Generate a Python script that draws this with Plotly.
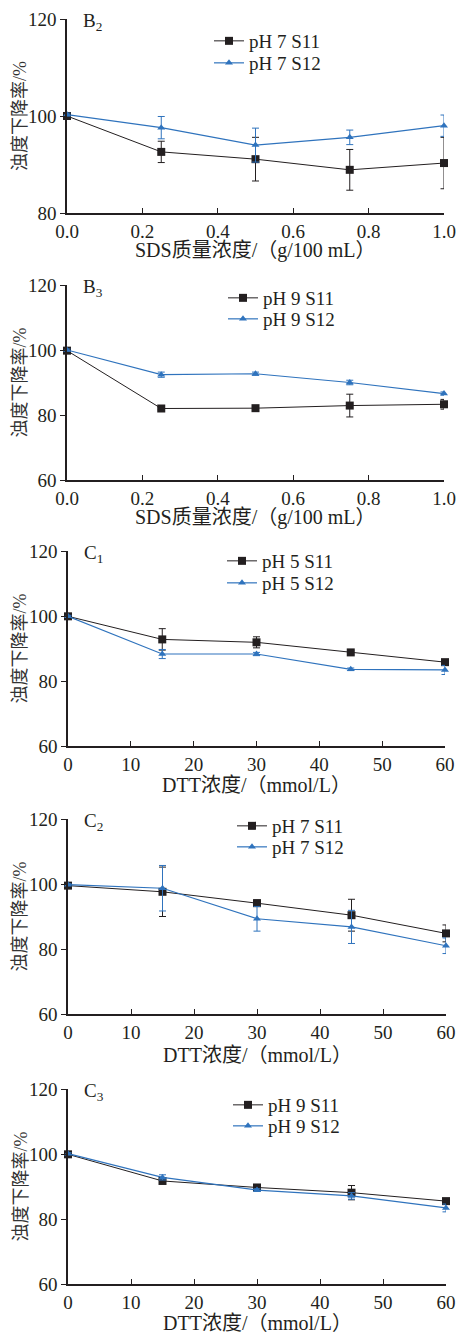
import plotly.graph_objects as go

W, H = 458, 1335
FONT = "Liberation Serif, Times New Roman, Noto Sans CJK SC, serif"
BLACK = "#231f20"
BLUE = "#2f73bd"

# ---------------- data ----------------
sds_x = [0.0, 0.25, 0.5, 0.75, 1.0]
dtt_x = [0, 15, 30, 45, 60]

b2_s11 = [100.0, 92.6, 91.1, 88.9, 90.3]
b2_s11_err = [0.3, 2.2, 4.5, 4.2, 5.3]
b2_s12 = [100.3, 97.6, 94.0, 95.6, 98.0]
b2_s12_err = [0.3, 2.3, 3.5, 1.5, 2.2]

b3_s11 = [99.8, 82.0, 82.1, 82.9, 83.3]
b3_s11_err = [0.3, 0.4, 0.4, 3.5, 1.5]
b3_s12 = [100.0, 92.4, 92.7, 90.0, 86.6]
b3_s12_err = [0.3, 0.8, 0.5, 0.7, 0.5]

c1_s11 = [99.9, 92.8, 91.9, 88.8, 85.8]
c1_s11_err = [0.3, 3.3, 1.7, 0.5, 0.7]
c1_s12 = [99.9, 88.3, 88.3, 83.6, 83.4]
c1_s12_err = [0.3, 1.4, 0.5, 0.4, 1.4]

c2_s11 = [99.5, 97.6, 94.1, 90.4, 84.8]
c2_s11_err = [0.3, 7.6, 1.0, 4.9, 2.6]
c2_s12 = [99.8, 98.7, 89.3, 86.8, 81.0]
c2_s12_err = [0.3, 7.0, 3.8, 5.1, 2.4]

c3_s11 = [99.9, 91.7, 89.7, 88.1, 85.5]
c3_s11_err = [0.3, 0.4, 0.5, 2.2, 0.5]
c3_s12 = [100.1, 92.8, 88.9, 87.1, 83.4]
c3_s12_err = [0.3, 0.8, 0.4, 1.0, 1.2]

panel_labels = ["B<sub>2</sub>", "B<sub>3</sub>", "C<sub>1</sub>", "C<sub>2</sub>", "C<sub>3</sub>"]
ph_labels = ["pH 7", "pH 9", "pH 5", "pH 7", "pH 9"]
series_names = ["S11", "S12"]
sds_title = "SDS质量浓度/（g/100 mL）"
dtt_title = "DTT浓度/（mmol/L）"
y_title = "浊度下降率/%"

sds_ticks = [0.0, 0.2, 0.4, 0.6, 0.8, 1.0]
sds_ticktext = ["0.0", "0.2", "0.4", "0.6", "0.8", "1.0"]
dtt_ticks = [0, 10, 20, 30, 40, 50, 60]

panels = [
    dict(x=sds_x, s11=b2_s11, e11=b2_s11_err, s12=b2_s12, e12=b2_s12_err,
         xr=[0, 1], yr=[80, 120], yt=[80, 100, 120], xt=sds_ticks, xtt=sds_ticktext, xtitle=sds_title),
    dict(x=sds_x, s11=b3_s11, e11=b3_s11_err, s12=b3_s12, e12=b3_s12_err,
         xr=[0, 1], yr=[60, 120], yt=[60, 80, 100, 120], xt=sds_ticks, xtt=sds_ticktext, xtitle=sds_title),
    dict(x=dtt_x, s11=c1_s11, e11=c1_s11_err, s12=c1_s12, e12=c1_s12_err,
         xr=[0, 60], yr=[60, 120], yt=[60, 80, 100, 120], xt=dtt_ticks, xtt=[str(v) for v in dtt_ticks], xtitle=dtt_title),
    dict(x=dtt_x, s11=c2_s11, e11=c2_s11_err, s12=c2_s12, e12=c2_s12_err,
         xr=[0, 60], yr=[60, 120], yt=[60, 80, 100, 120], xt=dtt_ticks, xtt=[str(v) for v in dtt_ticks], xtitle=dtt_title),
    dict(x=dtt_x, s11=c3_s11, e11=c3_s11_err, s12=c3_s12, e12=c3_s12_err,
         xr=[0, 60], yr=[60, 120], yt=[60, 80, 100, 120], xt=dtt_ticks, xtt=[str(v) for v in dtt_ticks], xtitle=dtt_title),
]

# ---------------- layout geometry (window pixels) ----------------
plot_px = [  # left, right, top, bottom
    (67, 444, 19, 213),
    (67, 444, 285, 480),
    (68, 445, 551, 746),
    (68, 446, 819, 1014),
    (68, 446, 1089, 1284),
]
legend_text_x = [249, 263, 262, 272, 268]
legend_rows = [(42, 64), (299, 320), (562, 584), (827, 848), (1106, 1127)]
xtitle_px = [250, 517, 785, 1055, 1323]

def px(x):
    return x / W

def py(y):
    return 1 - y / H

fig = go.Figure()
annotations = []
for i, p in enumerate(panels):
    k = "" if i == 0 else str(i + 1)
    xa, ya = "x" + k, "y" + k
    lg1 = "legend" + ("" if i == 0 else str(2 * i + 1))
    lg2 = "legend" + str(2 * i + 2)
    l, r, t, b = plot_px[i]
    fig.add_trace(go.Scatter(
        x=p["x"], y=p["s11"], xaxis=xa, yaxis=ya, legend=lg1,
        name=f"{ph_labels[i]} {series_names[0]}", mode="lines+markers",
        line=dict(color=BLACK, width=1),
        marker=dict(symbol="square", size=8, color=BLACK),
        error_y=dict(type="data", array=p["e11"], color=BLACK, thickness=1, width=3.5),
        cliponaxis=False))
    fig.add_trace(go.Scatter(
        x=p["x"], y=p["s12"], xaxis=xa, yaxis=ya, legend=lg2,
        name=f"{ph_labels[i]} {series_names[1]}", mode="lines+markers",
        line=dict(color=BLUE, width=1.2),
        marker=dict(symbol="triangle-up", size=7, color=BLUE),
        error_y=dict(type="data", array=p["e12"], color=BLUE, thickness=1, width=3.5),
        cliponaxis=False))
    axis_common = dict(showgrid=False, zeroline=False, showline=True, linecolor=BLACK,
                       linewidth=1.5, tickcolor=BLACK, tickwidth=1.2, ticklen=5, automargin=False,
                       tickfont=dict(family=FONT, size=19, color=BLACK))
    leg_common = dict(xanchor="left", yanchor="top", bgcolor="rgba(0,0,0,0)",
                      font=dict(family=FONT, size=19, color=BLACK), itemwidth=30)
    fig.update_layout({
        "xaxis" + k: dict(domain=[px(l), px(r)], range=p["xr"], anchor=ya,
                          tickmode="array", tickvals=p["xt"], ticktext=p["xtt"],
                          ticks="inside", **axis_common),
        "yaxis" + k: dict(domain=[py(b), py(t)], range=p["yr"], anchor=xa,
                          tickmode="array", tickvals=p["yt"],
                          ticks="outside", **axis_common),
        lg1: dict(x=px(legend_text_x[i] - 40), y=py(legend_rows[i][0] - 20), **leg_common),
        lg2: dict(x=px(legend_text_x[i] - 40), y=py(legend_rows[i][1] - 20), **leg_common),
    })
    annotations.append(dict(text=panel_labels[i], x=px(l + 14), y=py(t + 3), xref="paper", yref="paper",
                            xanchor="left", yanchor="middle", showarrow=False,
                            font=dict(family=FONT, size=19, color=BLACK)))
    annotations.append(dict(text=p["xtitle"], x=px((l + r) / 2), y=py(xtitle_px[i]), xref="paper", yref="paper",
                            xanchor="center", yanchor="middle", showarrow=False,
                            font=dict(family=FONT, size=20, color=BLACK)))
    annotations.append(dict(text=y_title, x=px(20), y=py((t + b) / 2), xref="paper", yref="paper",
                            xanchor="center", yanchor="middle", showarrow=False, textangle=-90,
                            font=dict(family=FONT, size=18, color="#333333")))

fig.update_layout(width=W, height=H, margin=dict(l=0, r=0, t=0, b=0, pad=0, autoexpand=False),
                  paper_bgcolor="white", plot_bgcolor="white",
                  annotations=annotations, showlegend=True)
fig.write_html("out.html", config={"displayModeBar": False},
               post_script="document.body.style.margin='0';document.body.style.overflow='hidden';")
